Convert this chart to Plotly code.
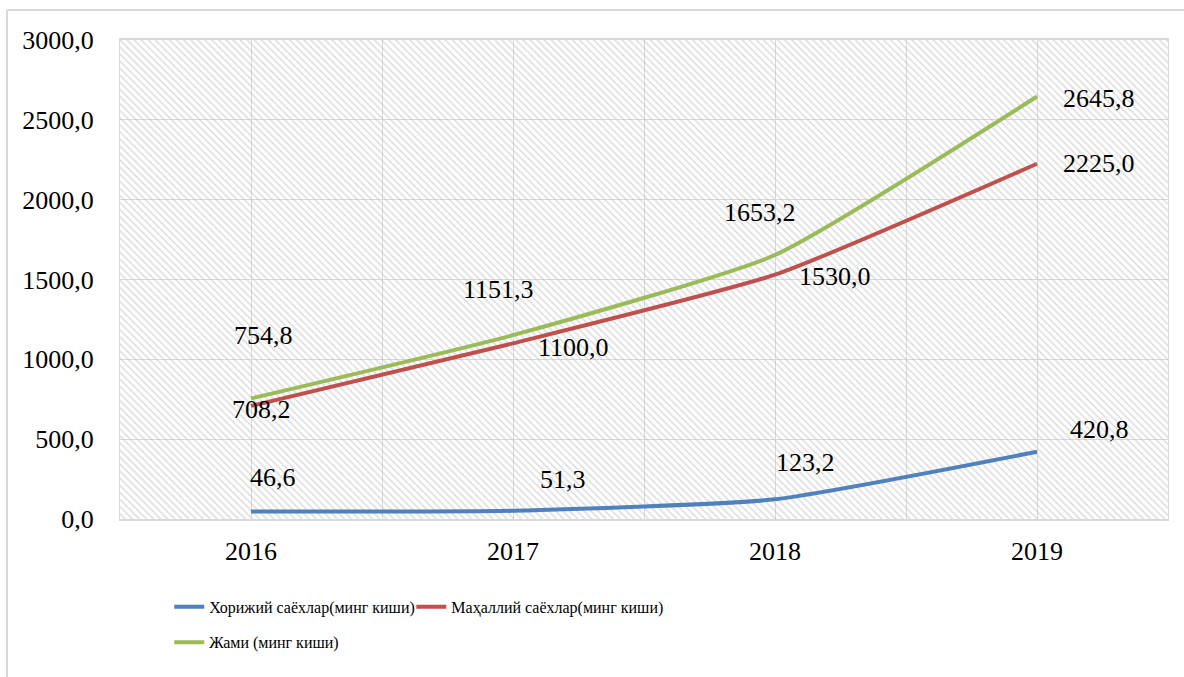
import plotly.graph_objects as go

years = ["2016", "2017", "2018", "2019"]
foreign = [46.6, 51.3, 123.2, 420.8]
local = [708.2, 1100.0, 1530.0, 2225.0]
total = [754.8, 1151.3, 1653.2, 2645.8]
names = ["Хорижий саёхлар(минг киши)", "Маҳаллий саёхлар(минг киши)", "Жами (минг киши)"]
y_ticks = [0, 500, 1000, 1500, 2000, 2500, 3000]

# label offsets in pixels (dx, dy up)
off_foreign = [(22, 34), (50, 31), (30, 37), (62, 22)]
off_local = [(10, -4), (60, -4), (60, -2), (62, 0)]
off_total = [(12, 63), (-15, 46), (-15, 43), (62, -2)]

colors = ["#4F81BD", "#C0504D", "#9BBB59"]
FONT = "Liberation Serif"
X_RANGE = [-0.5, len(years) - 0.5]
Y_RANGE = [0, 3000]

xs = list(range(len(years)))

fig = go.Figure()

# hatched plot-area background (transparent so the grid shows through)
fig.add_trace(go.Scatter(
    x=[X_RANGE[0], X_RANGE[1], X_RANGE[1], X_RANGE[0], X_RANGE[0]],
    y=[Y_RANGE[0], Y_RANGE[0], Y_RANGE[1], Y_RANGE[1], Y_RANGE[0]],
    mode="none", fill="toself", fillcolor="rgba(0,0,0,0)",
    fillpattern=dict(shape="\\", size=5, solidity=0.33, fgcolor="#bdbdbd",
                     bgcolor="rgba(0,0,0,0)", fillmode="overlay"),
    hoverinfo="skip", showlegend=False,
))

series = [foreign, local, total]
offsets = [off_foreign, off_local, off_total]
legends = ["legend", "legend2", "legend3"]
for vals, name, col, lg in zip(series, names, colors, legends):
    fig.add_trace(go.Scatter(
        x=xs, y=vals, name=name, mode="lines",
        line=dict(color=col, width=4, shape="spline", smoothing=0.5),
        legend=lg,
    ))

annotations = []
for vals, offs in zip(series, offsets):
    for xi, v, (dx, dy) in zip(xs, vals, offs):
        annotations.append(dict(
            x=xi, y=v, xref="x", yref="y", text=f"{v:.1f}".replace(".", ","),
            showarrow=False, xshift=dx, yshift=dy,
            font=dict(family=FONT, size=26, color="black"),
        ))

tickvals_x = [X_RANGE[0] + 0.5 * i for i in range(2 * len(years) + 1)]
ticktext_x = [years[int(v)] if float(v).is_integer() and 0 <= v < len(years) else "" for v in tickvals_x]

leg_common = dict(orientation="h", xanchor="left", yanchor="top",
                  font=dict(family=FONT, size=16, color="black"),
                  bgcolor="rgba(0,0,0,0)", itemwidth=30)

fig.update_layout(
    width=1184, height=677,
    margin=dict(l=120, r=16, t=40, b=158),
    paper_bgcolor="white", plot_bgcolor="white",
    font=dict(family=FONT, size=26, color="black"),
    annotations=annotations,
    showlegend=True,
    legend=dict(x=0.047, y=-0.148, **leg_common),
    legend2=dict(x=0.278, y=-0.148, **leg_common),
    legend3=dict(x=0.047, y=-0.222, **leg_common),
    xaxis=dict(range=X_RANGE, tickvals=tickvals_x, ticktext=ticktext_x,
               showgrid=True, gridcolor="#d9d9d9", gridwidth=1, zeroline=False,
               showline=True, linecolor="#d9d9d9", linewidth=2, mirror=True,
               ticks="", ticklabelstandoff=8, fixedrange=True),
    yaxis=dict(range=Y_RANGE, tickvals=y_ticks,
               ticktext=[f"{v:.1f}".replace(".", ",") for v in y_ticks],
               showgrid=True, gridcolor="#d9d9d9", gridwidth=1, zeroline=False,
               showline=True, linecolor="#d9d9d9", linewidth=1, mirror=True,
               ticks="", ticklabelstandoff=20, fixedrange=True),
    shapes=[
        dict(type="line", xref="paper", yref="paper", x0=-0.1078, x1=1.1, y0=1.0626, y1=1.0626,
             line=dict(color="#d9d9d9", width=2)),
        dict(type="line", xref="paper", yref="paper", x0=-0.1078, x1=-0.1078, y0=1.0626, y1=-0.5,
             line=dict(color="#d9d9d9", width=2)),
    ],
)

fig.write_html("out.html", config={"displayModeBar": False},
               post_script="document.body.style.margin='0';")
